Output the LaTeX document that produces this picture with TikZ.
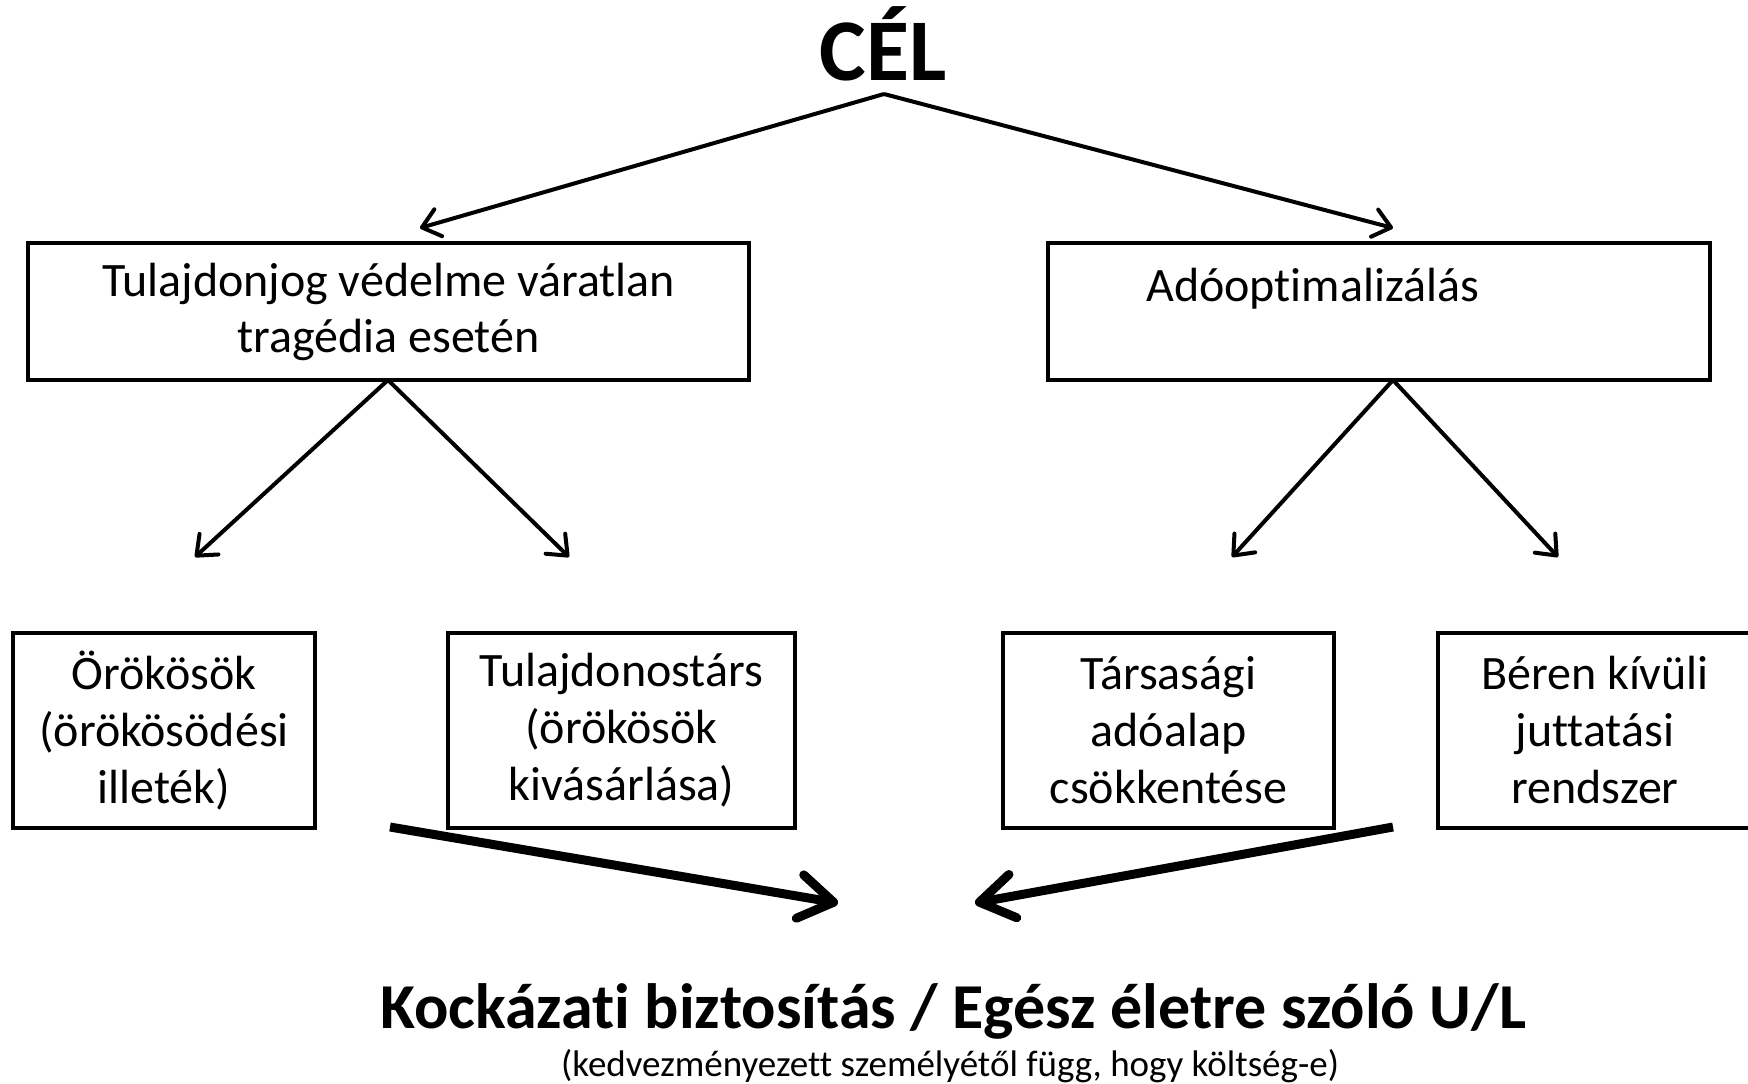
\documentclass[tikz,border=0pt]{standalone}
\usepackage{fontspec}
\setmainfont{Carlito}[Ligatures=CommonOff]
\usetikzlibrary{arrows.meta,positioning}

\begin{document}
\begin{tikzpicture}
[
x=1pt, y=-1pt,
goal/.style={rectangle, draw=black, line width=3.5pt, minimum height=137pt, align=center, font=\fontsize{48}{56}\selectfont},
means/.style={rectangle, draw=black, line width=3.5pt, minimum height=195pt, align=center, font=\fontsize{48}{57}\selectfont},
split/.style={-{Straight Barb[length=17pt,width=28pt,round]}, line width=4pt},
result/.style={-{Straight Barb[length=34pt,width=44pt,round]}, line width=9pt}
]
\useasboundingbox (0,0) rectangle (1748,1084);
%Nodes
\node[font=\fontsize{88}{100}\selectfont\bfseries, anchor=base] (cel) at (883,80) {CÉL};
\coordinate (fork) at (884,94);
\node[goal, minimum width=721pt] (protect) at (388.5,311.5) {Tulajdonjog védelme váratlan\\tragédia esetén};
\node[goal, minimum width=662pt] (tax) at (1379,311.5) {};
\node[font=\fontsize{48}{56}\selectfont, anchor=base west, inner sep=0pt] (taxtext) at (1146,301) {Adóoptimalizálás};
\coordinate (protect_l) at (420,228);
\coordinate (tax_r) at (1393,228);

\node[means, minimum width=302pt] (heirs)   at (164,730.5)   {Örökösök\\(örökösödési\\illeték)};
\node[means, minimum width=347pt] (partner) at (621.5,730.5) {Tulajdonostárs\\(örökösök\\kivásárlása)};
\node[means, minimum width=331pt] (corp)    at (1168.5,730.5) {Társasági\\adóalap\\csökkentése};
\node[means, minimum width=314pt] (benefit) at (1595,730.5)  {Béren kívüli\\juttatási\\rendszer};

\node[font=\fontsize{64}{76}\selectfont\bfseries, anchor=base] (insurance) at (953,1028) {Kockázati biztosítás / Egész életre szóló U/L};
\node[font=\fontsize{37}{44}\selectfont, anchor=base] (note) at (950,1076) {(kedvezményezett személyétől függ, hogy költség-e)};

%Lines
\coordinate (protect_fork) at (388,380);
\coordinate (tax_fork) at (1393,380);
\coordinate (heirs_in) at (195,557);
\coordinate (partner_in) at (569,557);
\coordinate (corp_in) at (1232,557);
\coordinate (benefit_in) at (1558,557);
\coordinate (left_out) at (390,827);
\coordinate (right_out) at (1393,827);
\coordinate (left_in) at (838,903);
\coordinate (right_in) at (975,903);

\path[split]
(fork)         edge (protect_l)
(fork)         edge (tax_r)
(protect_fork) edge (heirs_in)
(protect_fork) edge (partner_in)
(tax_fork)     edge (corp_in)
(tax_fork)     edge (benefit_in);
\draw[result] (left_out) -- (left_in);
\draw[result] (right_out) -- (right_in);
\end{tikzpicture}
\end{document}
